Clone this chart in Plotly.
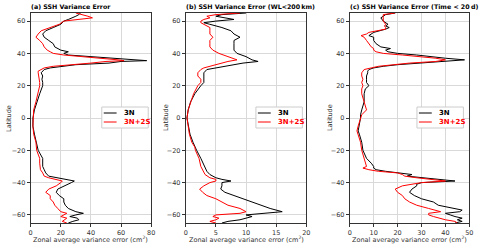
import plotly.graph_objects as go

# ---------------- data ----------------
lat_a = [65, 64, 63, 62, 61, 60, 58, 56, 54, 52, 50, 48, 46, 44, 42, 41, 40, 39, 38, 37, 36, 35.5, 35, 34, 33, 32, 31, 30, 29, 28,
         26, 24, 22, 20, 15, 10, 5, 0, -5, -10, -15, -20, -25, -28, -30, -32, -34, -36, -37, -38, -39, -40, -42, -44, -46, -48,
         -50, -52, -54, -56, -58, -59, -60, -61, -62, -63, -64, -65]
a_3n = [33, 32, 30, 28, 25, 22, 20, 15, 10, 8, 9, 12, 15, 16, 20, 25, 22, 25, 40, 55, 65, 77, 60, 52, 30, 20, 13, 9, 8, 7,
        8, 7.5, 8, 8, 6, 4, 2.5, 1.5, 1.5, 2.5, 4, 5, 8, 8, 8, 9, 10, 12, 18, 22, 29, 27, 22, 18, 17, 19,
        22, 22, 23, 25, 30, 35, 30, 26, 31, 32, 28, 25]
a_2s = [30, 35, 38, 41, 30, 22, 19, 13, 7, 5, 3.5, 6, 8, 9, 11, 13, 15, 22, 35, 50, 58, 62, 50, 40, 25, 15, 9, 7, 5, 5,
        5.5, 6, 6, 6, 5, 3.5, 2, 1.5, 1.5, 2, 3.5, 4, 6, 6, 6, 6.5, 8, 9, 12, 16, 21, 20, 17, 12, 10, 13,
        13, 15, 16, 18, 20, 24, 22, 20, 24, 22, 21, 24]

lat_b = [65, 64, 63, 62, 61, 60, 59, 58, 56, 54, 52, 50, 48, 46, 44, 42, 40, 38, 36, 35, 34, 33, 32, 31, 30, 28, 26, 24, 22, 20,
         15, 10, 5, 0, -5, -10, -15, -18, -20, -25, -30, -33, -35, -37, -38, -39, -40, -42, -44, -46, -48, -50, -52, -54, -56,
         -58, -59, -60, -61, -62, -63, -64, -65]
b_3n = [10, 6, 5, 6.5, 8, 5, 3, 4, 6, 7.5, 8, 9, 8, 8, 8, 8, 8.5, 10, 11, 12, 9.5, 8, 6, 4.5, 3.5, 3, 3, 3, 3, 2.5,
        1.5, 0.8, 0.4, 0.2, 0.4, 0.7, 1.2, 1.5, 1.8, 2.5, 3.2, 3.5, 4, 5, 6, 7.5, 6, 6, 5.8, 6.5, 8, 9.5, 11, 12.5, 14,
        16, 13, 10, 11, 10, 9, 7, 6]
b_2s = [9, 5, 3.5, 4, 3, 2.5, 2.5, 3, 4, 4, 4, 4.5, 4, 4, 4, 4.5, 5.5, 7, 8.5, 7, 6, 5, 4, 3, 2.5, 2, 2, 2.5, 2.5, 2,
        1.3, 0.8, 0.4, 0.2, 0.4, 0.6, 1.0, 1.5, 1.6, 2.2, 2.5, 3, 3.2, 4, 5, 5, 4, 3, 2.3, 2.8, 3.5, 5, 6, 7, 9,
        10, 9, 5, 4.5, 5.5, 5, 4, 5]

lat_c = [65, 64, 62, 60, 58, 57, 56, 55, 53, 52, 51, 50, 48, 46, 44, 43, 42, 41, 40, 39, 38, 37, 36, 35, 34, 33, 32, 31, 30, 29,
         28, 26, 24, 22, 20, 18, 15, 10, 5, 2, 0, -5, -8, -10, -15, -20, -25, -28, -30, -31, -32, -33, -34, -35, -36, -37,
         -38, -39, -40, -41, -42, -44, -46, -48, -50, -52, -54, -56, -57, -58, -59, -60, -61, -62, -63, -64, -65]
c_3n = [19, 15, 13, 14, 16, 15, 16.5, 15, 10, 9, 8, 10, 10, 11, 13, 17, 15, 16, 20, 28, 33, 40, 48, 38, 28, 20, 14, 10, 8, 7.5,
        7.5, 7, 7, 7, 8, 6.5, 6, 6, 5, 4.5, 4.5, 4, 3.5, 4, 5, 5.5, 7, 9, 10, 10, 11, 15, 22, 26, 24, 30,
        38, 44, 30, 28, 28, 26, 25, 27, 30, 35, 37, 43, 47, 46, 40, 42, 44, 47, 45, 47, 44]
c_2s = [19, 14, 14, 14, 15, 14.5, 15, 15, 8, 7, 4.7, 6, 7, 8, 9, 10, 10, 11, 14, 22, 30, 36, 40, 36, 25, 18, 12, 9, 6, 5.5,
        5, 5, 5.5, 5, 5.5, 5, 5, 6, 7, 5, 4.5, 3.5, 3, 3.5, 4.5, 5, 6, 6.5, 7, 5.5, 8, 12, 20, 22, 23, 28,
        35, 40, 30, 26, 22, 19, 20, 22, 23, 25, 28, 33, 36, 38, 33, 33, 35, 37, 40, 44, 45]

titles = ["(a) SSH Variance Error", "(b) SSH Variance Error (WL<200\u2009km)", "(c) SSH Variance Error (Time < 20\u2009d)"]
x_ranges = [[0, 80], [0, 20], [0, 50]]
x_ticks = [[0, 20, 40, 60, 80], [0, 5, 10, 15, 20], [0, 10, 20, 30, 40, 50]]
y_ticks = [-60, -40, -20, 0, 20, 40, 60]
series_names = ["3N", "3N+2S"]
series_colors = ["black", "red"]
x_title = "Zonal average variance error (cm<sup>2</sup>)"

# ---------------- figure ----------------
W, H = 500, 248
px_l = [29, 186, 352]
px_r = [151, 308, 473]
doms = [[l / W, r / W] for l, r in zip(px_l, px_r)]
ydom = [1 - 223 / H, 1 - 13 / H]
legend_right_px = [148, 304, 467]
ylabel_px = [7, 166, 332]
font = "DejaVu Sans"
axcol = "#333333"


def px(xp):
    return xp / W


def py(yp):
    return 1 - yp / H


fig = go.Figure()
panels = [(lat_a, a_3n, a_2s), (lat_b, b_3n, b_2s), (lat_c, c_3n, c_2s)]
shapes = []
for i, (lat, s1, s2) in enumerate(panels):
    xa = "x" if i == 0 else f"x{i+1}"
    ya = "y" if i == 0 else f"y{i+1}"
    for s, nm, col in zip((s1, s2), series_names, series_colors):
        fig.add_trace(go.Scatter(x=s, y=lat, mode="lines", line=dict(color=col, width=1),
                                 name=nm, xaxis=xa, yaxis=ya, showlegend=False))
    axcommon = dict(showline=True, linecolor=axcol, linewidth=1, mirror=True,
                    ticks="outside", ticklen=3, tickcolor=axcol,
                    tickfont=dict(size=6.5, color=axcol, family=font),
                    showgrid=True, gridcolor="#d9d9d9", gridwidth=1, zeroline=False)
    fig.layout[("xaxis" if i == 0 else f"xaxis{i+1}")] = dict(
        domain=doms[i], anchor=ya, range=x_ranges[i], tickvals=x_ticks[i], **axcommon)
    fig.layout[("yaxis" if i == 0 else f"yaxis{i+1}")] = dict(
        domain=ydom, anchor=xa, range=[-65, 65], tickvals=y_ticks, **axcommon)
    # title
    fig.add_annotation(text=f"<b>{titles[i]}</b>", xref="paper", yref="paper", x=doms[i][0], y=py(7),
                       xanchor="left", yanchor="middle", showarrow=False, xshift=-2,
                       font=dict(size=6.3, family=font, color="black"))
    # y title
    fig.add_annotation(text="Latitude", xref="paper", yref="paper", x=px(ylabel_px[i]), y=(ydom[0] + ydom[1]) / 2,
                       textangle=-90, xanchor="center", yanchor="middle", showarrow=False,
                       font=dict(size=6.5, family=font, color=axcol))
    # x title
    fig.add_annotation(text=x_title, xref="paper", yref="paper", x=(doms[i][0] + doms[i][1]) / 2, y=py(239.5),
                       xanchor="center", yanchor="middle", showarrow=False,
                       font=dict(size=6.5, family=font, color=axcol))
    # legend (box, line samples, labels)
    rgt = legend_right_px[i]
    lft = rgt - 47
    shapes.append(dict(type="rect", xref="paper", yref="paper", x0=px(lft), x1=px(rgt), y0=py(128), y1=py(107),
                       line=dict(color="#cccccc", width=1), fillcolor="white", layer="above"))
    for k, (nm, col) in enumerate(zip(series_names, series_colors)):
        yy = 113 + 9 * k
        shapes.append(dict(type="line", xref="paper", yref="paper", x0=px(lft + 2), x1=px(lft + 15),
                           y0=py(yy), y1=py(yy), line=dict(color=col, width=1), layer="above"))
        fig.add_annotation(text=f"<b>{nm}</b>", xref="paper", yref="paper", x=px(lft + 20), y=py(yy),
                           xanchor="left", yanchor="middle", showarrow=False,
                           font=dict(size=7, family=font, color=col))

fig.update_layout(width=W, height=H, margin=dict(l=0, r=0, t=0, b=0), paper_bgcolor="white",
                  plot_bgcolor="white", showlegend=False, shapes=shapes)
fig.write_html("out.html", config={"displayModeBar": False},
               post_script="document.body.style.margin='0';document.body.style.overflow='hidden';")
